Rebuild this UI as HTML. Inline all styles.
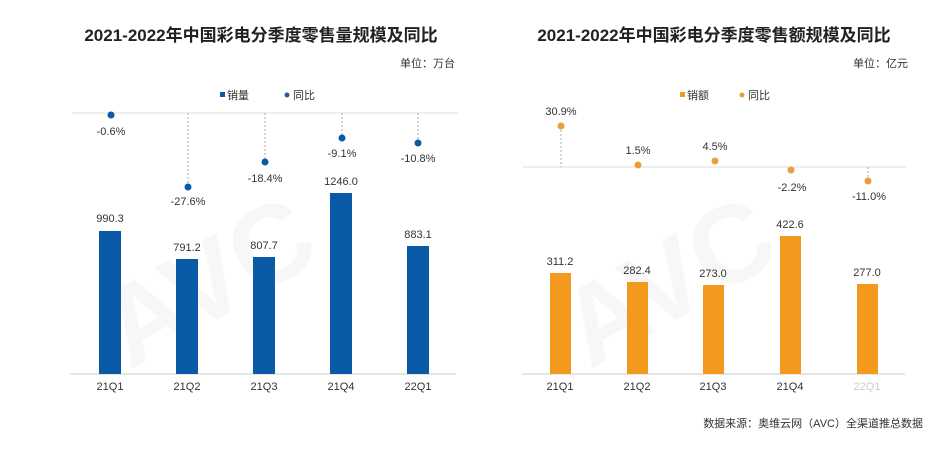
<!DOCTYPE html>
<html><head><meta charset="utf-8"><style>
html,body{margin:0;padding:0;background:#fff;}
svg{display:block;}
text{font-family:"Liberation Sans","Noto Sans CJK SC",sans-serif;}
.t{font-size:17px;font-weight:bold;fill:#222;}
.s{font-size:11px;fill:#333;}
.v{font-size:11px;fill:#333;}
.x{font-size:11px;fill:#333;}
</style></head><body>
<svg width="945" height="453" viewBox="0 0 945 453">
<rect width="945" height="453" fill="#fff"/>
<g fill="#000" opacity="0.035" font-family="Liberation Sans" font-weight="bold">
<text x="130" y="370" font-size="110" transform="rotate(-30 130 370)">AVC</text>
<text x="590" y="370" font-size="110" transform="rotate(-30 590 370)">AVC</text>
</g>
<!-- LEFT -->
<text class="t" x="261" y="41" text-anchor="middle">2021-2022年中国彩电分季度零售量规模及同比</text>
<text class="s" x="455" y="67" text-anchor="end">单位：万台</text>
<rect x="220" y="92" width="5" height="5" fill="#0b5aa8"/>
<text class="s" x="227" y="99">销量</text>
<circle cx="287" cy="95" r="2.5" fill="#2e5b94"/>
<text class="s" x="293" y="99">同比</text>
<line x1="72" y1="113" x2="458" y2="113" stroke="#ddd"/>
<line x1="70" y1="374" x2="456" y2="374" stroke="#ccc"/>
<g stroke="#aaa" stroke-dasharray="2,2">
<line x1="188" y1="113" x2="188" y2="187"/>
<line x1="265" y1="113" x2="265" y2="162"/>
<line x1="342" y1="113" x2="342" y2="138"/>
<line x1="418" y1="113" x2="418" y2="143"/>
</g>
<g fill="#0b5aa8">
<rect x="99" y="231" width="22" height="143"/>
<rect x="176" y="259" width="22" height="115"/>
<rect x="253" y="257" width="22" height="117"/>
<rect x="330" y="193" width="22" height="181"/>
<rect x="407" y="246" width="22" height="128"/>
<circle cx="111" cy="115" r="3.5"/>
<circle cx="188" cy="187" r="3.5"/>
<circle cx="265" cy="162" r="3.5"/>
<circle cx="342" cy="138" r="3.5"/>
<circle cx="418" cy="143" r="3.5"/>
</g>
<g class="v" text-anchor="middle">
<text x="111" y="135">-0.6%</text>
<text x="188" y="205">-27.6%</text>
<text x="265" y="182">-18.4%</text>
<text x="342" y="157">-9.1%</text>
<text x="418" y="162">-10.8%</text>
<text x="110" y="222">990.3</text>
<text x="187" y="251">791.2</text>
<text x="264" y="249">807.7</text>
<text x="341" y="185">1246.0</text>
<text x="418" y="238">883.1</text>
</g>
<g class="x" text-anchor="middle">
<text x="110" y="390">21Q1</text><text x="187" y="390">21Q2</text><text x="264" y="390">21Q3</text><text x="341" y="390">21Q4</text><text x="418" y="390">22Q1</text>
</g>
<!-- RIGHT -->
<text class="t" x="714" y="41" text-anchor="middle">2021-2022年中国彩电分季度零售额规模及同比</text>
<text class="s" x="908" y="67" text-anchor="end">单位：亿元</text>
<rect x="680" y="92" width="5" height="5" fill="#f39a1e"/>
<text class="s" x="687" y="99">销额</text>
<circle cx="742" cy="95" r="2.5" fill="#e8a03c"/>
<text class="s" x="748" y="99">同比</text>
<line x1="523" y1="167" x2="906" y2="167" stroke="#ddd"/>
<line x1="522" y1="374" x2="905" y2="374" stroke="#ccc"/>
<g stroke="#aaa" stroke-dasharray="2,2">
<line x1="561" y1="126" x2="561" y2="167"/>
<line x1="868" y1="167" x2="868" y2="181"/>
</g>
<g fill="#f39a1e">
<rect x="550" y="273" width="21" height="101"/>
<rect x="627" y="282" width="21" height="92"/>
<rect x="703" y="285" width="21" height="89"/>
<rect x="780" y="236" width="21" height="138"/>
<rect x="857" y="284" width="21" height="90"/>
</g>
<g fill="#e8a03c">
<circle cx="561" cy="126" r="3.5"/>
<circle cx="638" cy="165" r="3.5"/>
<circle cx="715" cy="161" r="3.5"/>
<circle cx="791" cy="170" r="3.5"/>
<circle cx="868" cy="181" r="3.5"/>
</g>
<g class="v" text-anchor="middle">
<text x="561" y="115">30.9%</text>
<text x="638" y="154">1.5%</text>
<text x="715" y="150">4.5%</text>
<text x="792" y="191">-2.2%</text>
<text x="869" y="200">-11.0%</text>
<text x="560" y="265">311.2</text>
<text x="637" y="274">282.4</text>
<text x="713" y="277">273.0</text>
<text x="790" y="228">422.6</text>
<text x="867" y="276">277.0</text>
</g>
<g class="x" text-anchor="middle">
<text x="560" y="390">21Q1</text><text x="637" y="390">21Q2</text><text x="713" y="390">21Q3</text><text x="790" y="390">21Q4</text><text x="867" y="390" fill="#ccc">22Q1</text>
</g>
<text class="s" x="923" y="427" text-anchor="end" font-size="12">数据来源：奥维云网（AVC）全渠道推总数据</text>
</svg>
</body></html>
